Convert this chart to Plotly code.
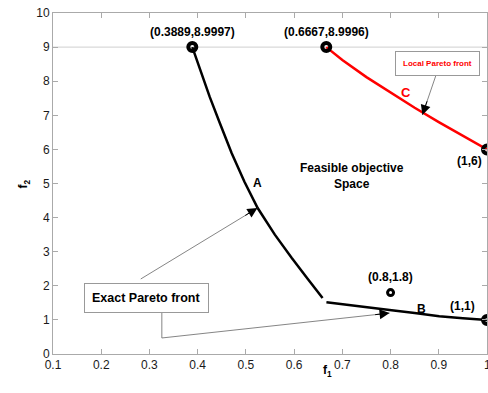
import math
import plotly.graph_objects as go

# Pareto front segments (f1, f2)
front_a_f1 = [0.3889, 0.405, 0.425, 0.4457, 0.4706, 0.497, 0.5244, 0.560, 0.5948, 0.628, 0.659]
front_a_f2 = [8.9997, 8.34, 7.54, 6.78, 5.89, 5.05, 4.28, 3.50, 2.82, 2.21, 1.64]

front_b_f1 = [0.667, 0.73, 0.798, 0.85, 0.901, 0.95, 1.0]
front_b_f2 = [1.52, 1.40, 1.29, 1.20, 1.11, 1.05, 1.0]

local_c_f1 = [0.6667, 0.70, 0.75, 0.80, 0.85, 0.90, 0.95, 1.0]
local_c_f2 = [8.9996, 8.62, 8.12, 7.66, 7.22, 6.80, 6.40, 6.0]

# Highlighted solutions
key_f1 = [0.3889, 0.6667, 1.0, 1.0]
key_f2 = [8.9997, 8.9996, 6.0, 1.0]
key_labels = ["(0.3889,8.9997)", "(0.6667,8.9996)", "(1,6)", "(1,1)"]
extra_f1 = [0.8]
extra_f2 = [1.8]
extra_label = "(0.8,1.8)"

x_ticks = [0.1, 0.2, 0.3, 0.4, 0.5, 0.6, 0.7, 0.8, 0.9, 1.0]
x_tick_text = ["0.1", "0.2", "0.3", "0.4", "0.5", "0.6", "0.7", "0.8", "0.9", "1"]
y_ticks = list(range(0, 11))
x_range = [0.1, 1.0]
y_range = [0, 10]

W, H = 488, 393
M = dict(l=53, r=1, t=13, b=39)
px_per_x = (W - M["l"] - M["r"]) / (x_range[1] - x_range[0])
px_per_y = (H - M["t"] - M["b"]) / (y_range[1] - y_range[0])

BOLD = "Liberation Sans"
TICK_COLOR = "#1a1a1a"
fig = go.Figure()

fig.add_trace(go.Scatter(x=front_a_f1, y=front_a_f2, mode="lines",
                         line=dict(color="black", width=2.5), hoverinfo="skip"))
fig.add_trace(go.Scatter(x=front_b_f1, y=front_b_f2, mode="lines",
                         line=dict(color="black", width=2.5), hoverinfo="skip"))
fig.add_trace(go.Scatter(x=local_c_f1, y=local_c_f2, mode="lines",
                         line=dict(color="#ff0000", width=2.5), hoverinfo="skip"))
fig.add_trace(go.Scatter(x=key_f1, y=key_f2, mode="markers",
                         marker=dict(symbol="circle-open", size=8, color="black",
                                     line=dict(width=4, color="black")),
                         cliponaxis=False, hoverinfo="skip"))
fig.add_trace(go.Scatter(x=extra_f1, y=extra_f2, mode="markers",
                         marker=dict(symbol="circle-open", size=6, color="black",
                                     line=dict(width=3, color="black")),
                         cliponaxis=False, hoverinfo="skip"))

# light reference line at f2 = 9
fig.add_shape(type="line", xref="x", yref="y", x0=x_range[0], x1=x_range[1], y0=9, y1=9,
              line=dict(color="#cfcfcf", width=1), layer="below")

lab_font = dict(family=BOLD, size=12, color="black")
ann = []
# coordinate labels
ann.append(dict(x=key_f1[0], y=key_f2[0], text="<b>%s</b>" % key_labels[0], showarrow=False,
                yshift=15, font=lab_font))
ann.append(dict(x=key_f1[1], y=key_f2[1], text="<b>%s</b>" % key_labels[1], showarrow=False,
                yshift=15, font=lab_font))
ann.append(dict(x=key_f1[2], y=key_f2[2], text="<b>%s</b>" % key_labels[2], showarrow=False,
                xshift=-18, yshift=-12, font=lab_font))
ann.append(dict(x=key_f1[3], y=key_f2[3], text="<b>%s</b>" % key_labels[3], showarrow=False,
                xshift=-25, yshift=14, font=lab_font))
ann.append(dict(x=extra_f1[0], y=extra_f2[0], text="<b>%s</b>" % extra_label, showarrow=False,
                yshift=16, font=lab_font))

# segment letters
ann.append(dict(x=0.5244, y=5.01, text="<b>A</b>", showarrow=False, font=lab_font))
ann.append(dict(x=0.864, y=1.32, text="<b>B</b>", showarrow=False, font=lab_font))
ann.append(dict(x=0.833, y=7.68, text="<b>C</b>", showarrow=False,
                font=dict(family=BOLD, size=13, color="#ff0000")))

ann.append(dict(x=0.719, y=5.22, text="<b>Feasible objective<br>Space</b>", showarrow=False,
                font=lab_font))

# callout boxes
ann.append(dict(x=0.2946, y=1.65, text="<b>Exact Pareto front</b>", showarrow=False,
                font=dict(family=BOLD, size=12.5, color="black"),
                bordercolor="#999999", borderwidth=1, borderpad=7, bgcolor="white"))
ann.append(dict(x=0.8975, y=8.53, text="<b>Local Pareto front</b>", showarrow=False,
                font=dict(family=BOLD, size=8, color="#ff0000"),
                bordercolor="#999999", borderwidth=1, borderpad=7, bgcolor="white"))

# callout leader lines (thin grey) ending in solid black heads
leaders = [
    ((0.282, 2.20), (0.524, 4.28)),
    ((0.3257, 0.47), (0.798, 1.20)),
    ((0.895, 8.21), (0.866, 7.01)),
]
HEAD_PX = 16
for (tx, ty), (hx, hy) in leaders:
    fig.add_shape(type="line", xref="x", yref="y", x0=tx, y0=ty, x1=hx, y1=hy,
                  line=dict(color="#666666", width=0.8))
    dx = (tx - hx) * px_per_x
    dy = -(ty - hy) * px_per_y
    d = math.hypot(dx, dy)
    ann.append(dict(x=hx, y=hy, ax=dx / d * HEAD_PX, ay=dy / d * HEAD_PX,
                    text="", showarrow=True, arrowhead=2,
                    arrowsize=2.0, arrowwidth=1, arrowcolor="black", standoff=0))

fig.add_shape(type="line", xref="x", yref="y", x0=0.3257, x1=0.3257, y0=1.22, y1=0.47,
              line=dict(color="#666666", width=0.8))

# tick label at the right edge
ann.append(dict(x=x_ticks[-1], y=0, xref="x", yref="paper", yanchor="top", yshift=-2,
                text=x_tick_text[-1], showarrow=False,
                font=dict(family="Liberation Sans", size=12, color=TICK_COLOR)))

# axis titles
ann.append(dict(xref="paper", yref="paper", x=0.632, y=-0.05, yanchor="middle",
                text="<b>f<sub>1</sub></b>", showarrow=False,
                font=dict(family=BOLD, size=12, color="black")))
ann.append(dict(xref="paper", yref="paper", x=-0.09, y=0.5, textangle=-90,
                text="<b>f<sub>2</sub></b>", showarrow=False,
                font=dict(family=BOLD, size=12, color="black")))

fig.update_layout(
    width=W, height=H,
    margin=M,
    paper_bgcolor="white", plot_bgcolor="white",
    showlegend=False,
    annotations=ann,
    font=dict(family="Liberation Sans", size=12, color=TICK_COLOR),
)
fig.update_xaxes(range=x_range, tickvals=x_ticks[:-1], ticktext=x_tick_text[:-1],
                 showgrid=False, zeroline=False, showline=True, linecolor="#aaaaaa",
                 linewidth=1, mirror="ticks", ticks="inside", ticklen=5, tickcolor="#aaaaaa",
                 tickfont=dict(family="Liberation Sans", size=12, color=TICK_COLOR))
fig.update_yaxes(range=y_range, tickvals=y_ticks,
                 showgrid=False, zeroline=False, showline=True, linecolor="#aaaaaa",
                 linewidth=1, mirror="ticks", ticks="inside", ticklen=5, tickcolor="#aaaaaa",
                 tickfont=dict(family="Liberation Sans", size=12, color=TICK_COLOR))

fig.write_html("out.html")
